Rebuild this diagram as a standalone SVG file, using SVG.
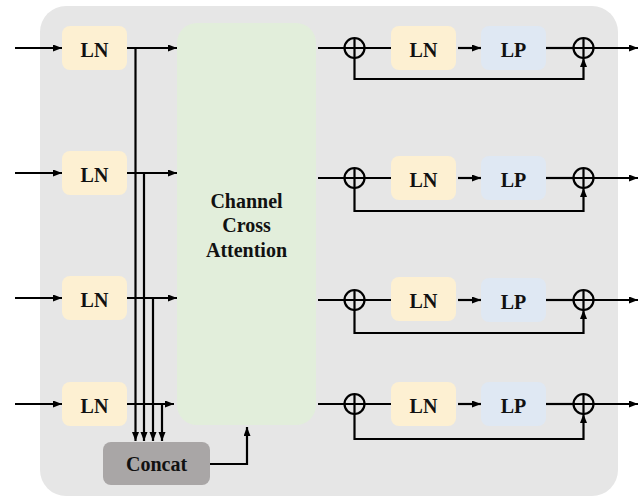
<svg xmlns="http://www.w3.org/2000/svg" width="638" height="497" viewBox="0 0 638 497">
<defs>
<marker id="ah" markerUnits="userSpaceOnUse" markerWidth="10" markerHeight="8" refX="9" refY="3.5" orient="auto">
<path d="M0,0 L9,3.5 L0,7 z" fill="#000"/>
</marker>
<style>
.ln{fill:#fdf0d2;}
.lp{fill:#dfe8f3;}
.t{font-family:"Liberation Serif","Times New Roman",serif;font-weight:bold;font-size:20px;fill:#111;text-anchor:middle;}
.w{fill:none;stroke:#000;stroke-width:2.2;}
.a{fill:none;stroke:#000;stroke-width:2.2;marker-end:url(#ah);}
.c{fill:none;stroke:#000;stroke-width:2.2;}
</style>
</defs>
<rect x="40" y="6" width="578" height="490" rx="26" fill="#e6e6e6"/>
<g id="cca">
<rect x="177" y="23" width="139" height="402" rx="20" fill="#e2eedb"/>
<text class="t" x="246.5" y="208">Channel</text>
<text class="t" x="246.5" y="232">Cross</text>
<text class="t" x="246.5" y="257">Attention</text>
</g>
<g id="concat">
<rect x="103" y="442" width="107" height="43" rx="8" fill="#a9a6a6"/>
<text class="t" x="156.5" y="470.5">Concat</text>
</g>
<g id="ln-left-1"><rect class="ln" x="62" y="26" width="65" height="44" rx="8"/><text class="t" x="94.5" y="56.5">LN</text></g>
<g id="ln-left-2"><rect class="ln" x="62" y="151" width="65" height="44" rx="8"/><text class="t" x="94.5" y="181.5">LN</text></g>
<g id="ln-left-3"><rect class="ln" x="62" y="276" width="65" height="44" rx="8"/><text class="t" x="94.5" y="306.5">LN</text></g>
<g id="ln-left-4"><rect class="ln" x="62" y="382" width="65" height="44" rx="8"/><text class="t" x="94.5" y="412.5">LN</text></g>
<g id="ln-right-1"><rect class="ln" x="391" y="26" width="65" height="44" rx="8"/><text class="t" x="423.5" y="56.5">LN</text></g>
<g id="ln-right-2"><rect class="ln" x="391" y="156" width="65" height="44" rx="8"/><text class="t" x="423.5" y="186.5">LN</text></g>
<g id="ln-right-3"><rect class="ln" x="391" y="277" width="65" height="44" rx="8"/><text class="t" x="423.5" y="307.5">LN</text></g>
<g id="ln-right-4"><rect class="ln" x="391" y="382" width="65" height="44" rx="8"/><text class="t" x="423.5" y="412.5">LN</text></g>
<g id="lp-1"><rect class="lp" x="481" y="26" width="65" height="44" rx="8"/><text class="t" x="513.5" y="56.5">LP</text></g>
<g id="lp-2"><rect class="lp" x="481" y="156" width="65" height="44" rx="8"/><text class="t" x="513.5" y="186.5">LP</text></g>
<g id="lp-3"><rect class="lp" x="481" y="278" width="65" height="44" rx="8"/><text class="t" x="513.5" y="308.5">LP</text></g>
<g id="lp-4"><rect class="lp" x="481" y="382" width="65" height="44" rx="8"/><text class="t" x="513.5" y="412.5">LP</text></g>
<g id="add-1a"><circle class="c" cx="354.5" cy="48" r="10"/><path class="w" d="M344.5,48H364.5M354.5,38V58"/></g>
<g id="add-1b"><circle class="c" cx="583.5" cy="48" r="10"/><path class="w" d="M573.5,48H593.5M583.5,38V58"/></g>
<g id="add-2a"><circle class="c" cx="354.5" cy="178" r="10"/><path class="w" d="M344.5,178H364.5M354.5,168V188"/></g>
<g id="add-2b"><circle class="c" cx="583.5" cy="178" r="10"/><path class="w" d="M573.5,178H593.5M583.5,168V188"/></g>
<g id="add-3a"><circle class="c" cx="354.5" cy="300" r="10"/><path class="w" d="M344.5,300H364.5M354.5,290V310"/></g>
<g id="add-3b"><circle class="c" cx="583.5" cy="300" r="10"/><path class="w" d="M573.5,300H593.5M583.5,290V310"/></g>
<g id="add-4a"><circle class="c" cx="354.5" cy="404" r="10"/><path class="w" d="M344.5,404H364.5M354.5,394V414"/></g>
<g id="add-4b"><circle class="c" cx="583.5" cy="404" r="10"/><path class="w" d="M573.5,404H593.5M583.5,394V414"/></g>
<g id="connectors">
<path class="a" d="M15,48H62"/>
<path class="a" d="M15,173H62"/>
<path class="a" d="M15,298H62"/>
<path class="a" d="M15,404H62"/>
<path class="a" d="M127,48H177"/>
<path class="a" d="M127,173H177"/>
<path class="a" d="M127,298H177"/>
<path class="a" d="M127,404H174"/>
<path class="a" d="M135.5,48V441"/>
<path class="a" d="M144,173V441"/>
<path class="a" d="M153,298V441"/>
<path class="a" d="M162,404V441"/>
<path class="a" d="M210,464H247V427"/>
<path class="w" d="M318,48H344.5M364.5,48H391"/>
<path class="w" d="M318,178H344.5M364.5,178H391"/>
<path class="w" d="M318,300H344.5M364.5,300H391"/>
<path class="w" d="M318,404H344.5M364.5,404H391"/>
<path class="a" d="M458,48H481"/>
<path class="a" d="M458,178H481"/>
<path class="a" d="M458,300H481"/>
<path class="a" d="M458,404H481"/>
<path class="w" d="M546,48H573.5"/>
<path class="w" d="M546,178H573.5"/>
<path class="w" d="M546,300H573.5"/>
<path class="w" d="M546,404H573.5"/>
<path class="a" d="M593.5,48H638"/>
<path class="a" d="M593.5,178H638"/>
<path class="a" d="M593.5,300H638"/>
<path class="a" d="M593.5,404H638"/>
<path class="a" d="M354.5,58V79H583.5V58"/>
<path class="a" d="M354.5,188V211H583.5V188"/>
<path class="a" d="M354.5,310V333H583.5V310"/>
<path class="a" d="M354.5,414V439H583.5V414"/>
</g>
</svg>
